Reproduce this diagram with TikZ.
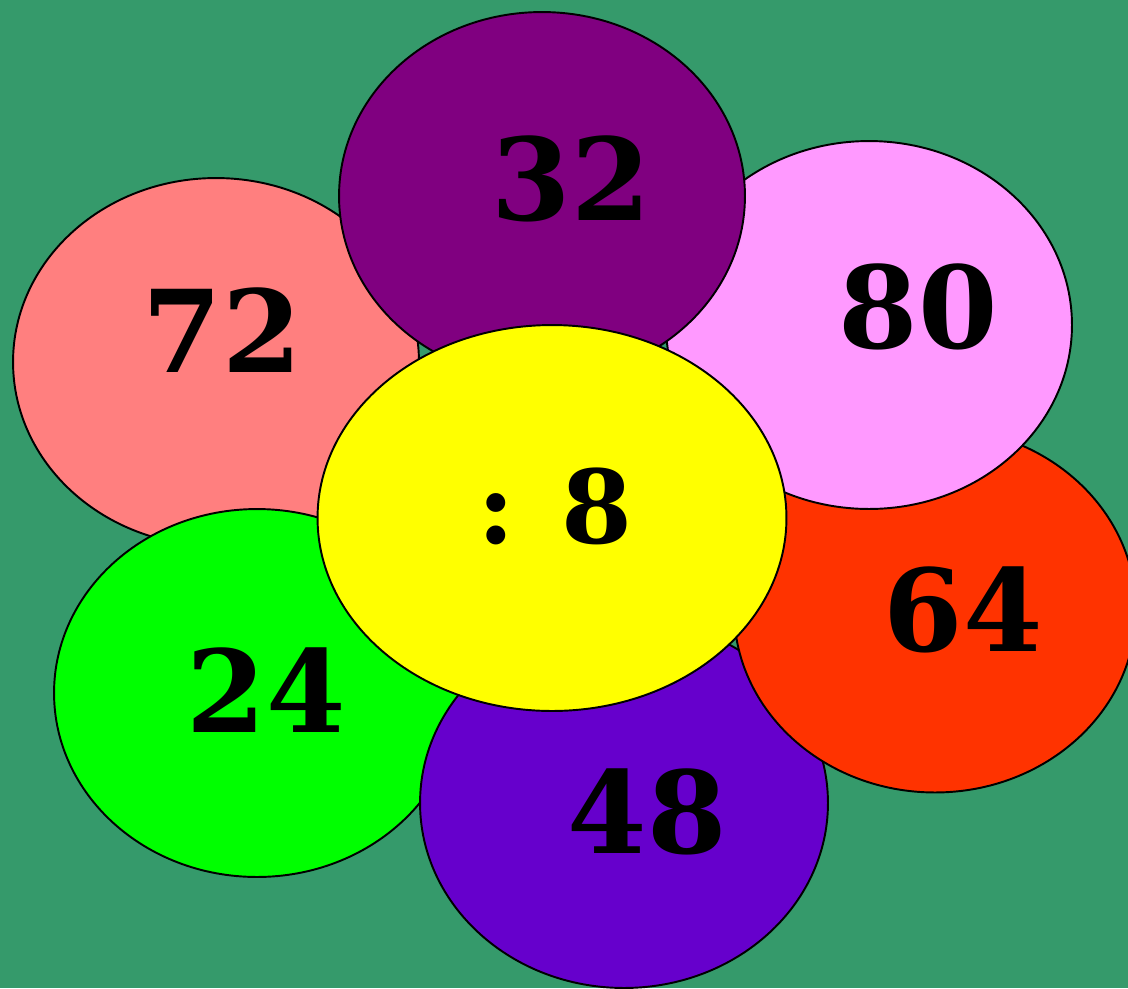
\documentclass[tikz,border=0pt]{standalone}
\usepackage{fontspec}
\setmainfont{DejaVu Serif}
\usetikzlibrary{shapes.geometric}
\definecolor{meadow}{HTML}{359A6B}
\definecolor{salmonp}{HTML}{FF7F7F}
\definecolor{plumb}{HTML}{800080}
\definecolor{pinkp}{HTML}{FF99FF}
\definecolor{redp}{HTML}{FF3300}
\definecolor{violetp}{HTML}{6600CC}
\definecolor{greenp}{HTML}{00FF00}
\definecolor{yellowp}{HTML}{FFFF00}
\begin{document}
\begin{tikzpicture}[x=0.02cm, y=-0.02cm,
    petal/.style={ellipse, draw=black, line width=1.1pt, inner sep=0pt, minimum width=8.12cm, minimum height=7.36cm},
    num/.style={font=\bfseries\fontsize{65}{65}\selectfont, inner sep=0pt}]
    \useasboundingbox (0,0) rectangle (1128,988);
    \fill[meadow] (0,0) rectangle (1128,988);
    \clip (0,0) rectangle (1128,988);
    % Petals, back to front
    \node[petal, fill=salmonp] (p72) at (216,362) {};
    \node[petal, fill=greenp] (p24) at (257,693) {};
    \node[petal, fill=violetp, minimum width=8.16cm, minimum height=7.4cm] (p48) at (624,803) {};
    \node[petal, fill=redp, minimum width=8.04cm, minimum height=7.3cm] (p64) at (935,610) {};
    \node[petal, fill=pinkp] (p80) at (869,325) {};
    \node[petal, fill=plumb] (p32) at (542,196) {};
    \node[petal, fill=yellowp, minimum width=9.38cm, minimum height=7.72cm] (mid) at (552,518) {};
    % Numbers
    \node[num] (t72) at (222,330) {72};
    \node[num] (t32) at (571,179) {32};
    \node[num] (t80) at (918,307) {80};
    \node[num] (t64) at (963,610) {64};
    \node[num] (t48) at (647,812) {48};
    \node[num] (t24) at (266,690) {24};
    \node[num, font=\bfseries\fontsize{58}{58}\selectfont] (tmid) at (555,506) {: 8};
\end{tikzpicture}
\end{document}
